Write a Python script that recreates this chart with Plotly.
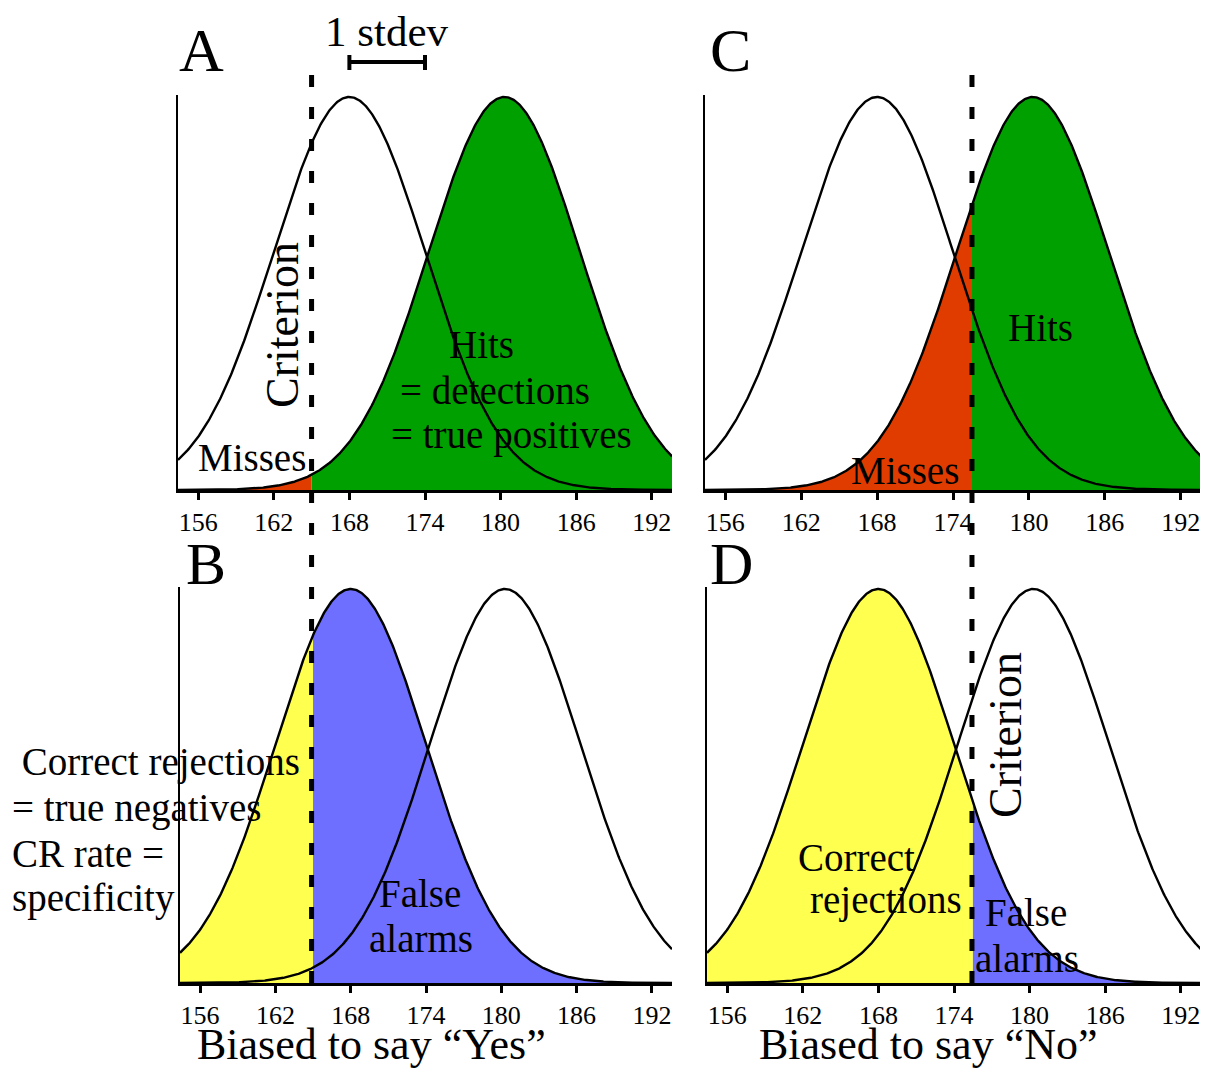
import numpy as np
import plotly.graph_objects as go

# ---- data ----
noise_mean = 168.0      # "no" distribution (white/yellow/blue)
signal_mean = 180.3     # "yes" distribution (green/red)
stdev = 6.0
criterion_yes = 165.0   # panels A, B (biased to say "Yes")
criterion_no = 175.5    # panels C, D (biased to say "No")
x_min, x_max = 154.4, 193.6
tick_vals = [156, 162, 168, 174, 180, 186, 192]
tick_text = ["156", "162", "168", "174", "180", "186", "192"]

# page body adds an 8px margin, so the figure is 8px smaller on each side
OFF = 8
W, H = 1208 - OFF, 1072 - OFF
FONT = "Liberation Serif"
GREEN = "#00A000"
RED = "#E03C00"
BLUE = "#6E6EFF"
YELLOW = "#FFFF50"


def px(x):
    return (x - OFF) / W


def py(y):
    return 1 - (y - OFF) / H


def pdf(x, m, s):
    return np.exp(-0.5 * ((x - m) / s) ** 2) / (s * np.sqrt(2 * np.pi))


xs = np.linspace(x_min, x_max, 600)
ymax = pdf(noise_mean, noise_mean, stdev) * 1.005

fig = go.Figure()

panels = {
    # name: (axis id, x px range, y px range) in screen pixels
    "A": (1, (178, 672), (95, 490)),
    "B": (2, (180, 672), (587, 983)),
    "C": (3, (705, 1201), (95, 490)),
    "D": (4, (707, 1201), (587, 983)),
}

layout_axes = {}
for name, (i, (x0, x1), (y0, y1)) in panels.items():
    sfx = "" if i == 1 else str(i)
    layout_axes["xaxis" + sfx] = dict(
        domain=[px(x0), px(x1)], range=[x_min, x_max], anchor="y" + sfx,
        showline=True, linecolor="black", linewidth=3, showgrid=False, zeroline=False,
        ticks="outside", ticklen=7, tickwidth=2.5, tickcolor="black",
        tickvals=tick_vals, ticktext=tick_text,
        tickfont=dict(family=FONT, size=26, color="black"),
    )
    layout_axes["yaxis" + sfx] = dict(
        domain=[py(y1), py(y0)], range=[0, ymax], anchor="x" + sfx,
        showline=True, linecolor="black", linewidth=2, showgrid=False, zeroline=False,
        showticklabels=False, ticks="",
    )


def fill(ax, lo, hi, mean, color):
    sfx = "" if ax == 1 else str(ax)
    xx = xs[(xs >= lo) & (xs <= hi)]
    xx = np.concatenate([[lo], xx, [hi]])
    yy = pdf(xx, mean, stdev)
    fig.add_trace(go.Scatter(x=xx, y=yy, mode="lines", fill="tozeroy",
                             fillcolor=color, line=dict(width=0, color=color),
                             xaxis="x" + sfx, yaxis="y" + sfx, hoverinfo="skip",
                             showlegend=False))


def curves(ax):
    sfx = "" if ax == 1 else str(ax)
    for m in (noise_mean, signal_mean):
        fig.add_trace(go.Scatter(x=xs, y=pdf(xs, m, stdev), mode="lines",
                                 line=dict(color="black", width=2.4),
                                 xaxis="x" + sfx, yaxis="y" + sfx,
                                 hoverinfo="skip", showlegend=False))


# A: signal distribution split at criterion_yes
fill(1, x_min, criterion_yes, signal_mean, RED)
fill(1, criterion_yes, x_max, signal_mean, GREEN)
curves(1)
# B: noise distribution split at criterion_yes
fill(2, x_min, criterion_yes, noise_mean, YELLOW)
fill(2, criterion_yes, x_max, noise_mean, BLUE)
curves(2)
# C: signal distribution split at criterion_no
fill(3, x_min, criterion_no, signal_mean, RED)
fill(3, criterion_no, x_max, signal_mean, GREEN)
curves(3)
# D: noise distribution split at criterion_no
fill(4, x_min, criterion_no, noise_mean, YELLOW)
fill(4, criterion_no, x_max, noise_mean, BLUE)
curves(4)

shapes = []
# criterion dashed lines spanning top and bottom panels
for xref, c in (("x", criterion_yes), ("x3", criterion_no)):
    shapes.append(dict(type="line", xref=xref, yref="paper", x0=c, x1=c,
                       y0=py(75), y1=py(983),
                       line=dict(color="black", width=5, dash="12px,20px"),
                       layer="above"))
# 1 stdev scale bar
bar_y = py(62)
shapes.append(dict(type="line", xref="x", yref="paper", x0=noise_mean, x1=noise_mean + stdev,
                   y0=bar_y, y1=bar_y, line=dict(color="black", width=4)))
for xv in (noise_mean, noise_mean + stdev):
    shapes.append(dict(type="line", xref="x", yref="paper", x0=xv, x1=xv,
                       y0=py(55), y1=py(70), line=dict(color="black", width=4)))

annotations = []


def txt(text, x, y, size=39, angle=0, xanchor="center"):
    annotations.append(dict(text=text, x=px(x), y=py(y), xref="paper", yref="paper",
                            showarrow=False, textangle=angle, xanchor=xanchor,
                            yanchor="middle",
                            font=dict(family=FONT, size=size, color="black")))


# panel letters
txt("A", 202, 50, size=62)
txt("B", 206, 564, size=60)
txt("C", 730, 50, size=62)
txt("D", 731, 564, size=60)
txt("1 stdev", 387, 32, size=43)

# panel A
txt("Criterion", 283, 325, size=46, angle=-90)
txt("Hits", 481, 345)
txt("= detections", 495, 390)
txt("= true positives", 511, 435)
txt("Misses", 252, 458)
# panel C
txt("Hits", 1040, 327)
txt("Misses", 905, 470)
# panel B
txt("False", 420, 893)
txt("alarms", 421, 938)
txt(" Correct rejections", 10, 762, xanchor="left")
txt("= true negatives", 10, 808, xanchor="left")
txt("CR rate =", 10, 853, xanchor="left")
txt("specificity", 10, 898, xanchor="left")
# panel D
txt("Criterion", 1005, 735, size=46, angle=-90)
txt("Correct", 856, 857)
txt("rejections", 886, 900)
txt("False", 1026, 912)
txt("alarms", 1027, 958)
# bottom titles
txt("Biased to say \u201cYes\u201d", 371, 1044, size=44)
txt("Biased to say \u201cNo\u201d", 928, 1044, size=44)

fig.update_layout(
    width=W, height=H, margin=dict(l=0, r=0, t=0, b=0),
    paper_bgcolor="white", plot_bgcolor="white",
    shapes=shapes, annotations=annotations, showlegend=False,
    **layout_axes,
)

fig.write_html("out.html")
